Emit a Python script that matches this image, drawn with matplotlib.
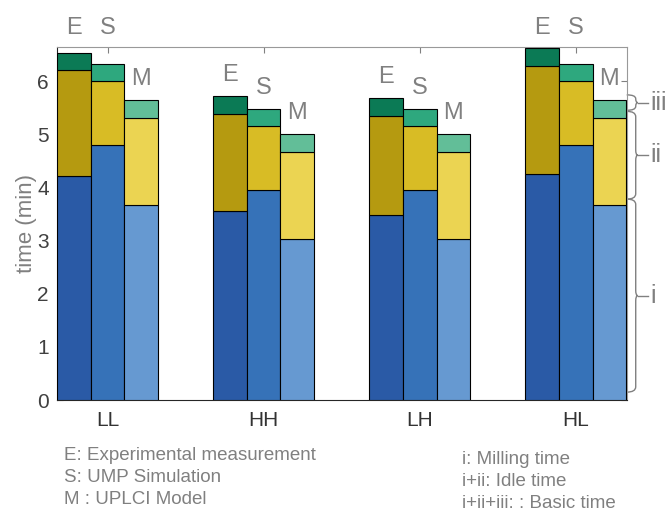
import matplotlib
matplotlib.use("Agg")
import matplotlib.pyplot as plt
import numpy as np
from matplotlib.path import Path
from matplotlib.patches import PathPatch

plt.rcParams["font.family"] = ["Liberation Sans", "DejaVu Sans"]

# data (minutes)
groups = ["LL", "HH", "LH", "HL"]
sources = ["E", "S", "M"]
milling = [[4.21, 4.79, 3.66],
           [3.55, 3.95, 3.03],
           [3.49, 3.95, 3.03],
           [4.25, 4.79, 3.66]]
idle = [[6.21, 6.00, 5.31],
        [5.38, 5.16, 4.67],
        [5.35, 5.16, 4.67],
        [6.29, 6.00, 5.31]]
basic = [[6.53, 6.32, 5.65],
         [5.72, 5.48, 5.00],
         [5.68, 5.48, 5.00],
         [6.62, 6.32, 5.65]]

brace_names = ["i", "ii", "iii"]
brace_ranges = [(0.15, 3.78), (3.78, 5.43), (5.45, 5.74)]

notes_left = ["E: Experimental measurement", "S: UMP Simulation", "M : UPLCI Model"]
notes_right = ["i: Milling time", "i+ii: Idle time", "i+ii+iii: : Basic time"]

c_mill = ["#2a5aa6", "#3672b8", "#6699d1"]
c_idle = ["#b59a10", "#d8bc25", "#ebd452"]
c_basic = ["#0b7a55", "#2ea87e", "#62be98"]
gray = "#808080"

milling = np.array(milling)
idle = np.array(idle)
basic = np.array(basic)

fig = plt.figure(figsize=(6.71, 5.11), dpi=100)
ax = fig.add_axes([0.085, 0.217, 0.849, 0.691])

x = np.arange(1, len(groups) + 1)
w = 0.216
ymax = 6.64
for j in range(3):
    xs = x + (j - 1) * w
    ax.bar(xs, milling[:, j], w, color=c_mill[j], edgecolor="black", linewidth=0.8, zorder=3)
    ax.bar(xs, idle[:, j] - milling[:, j], w, bottom=milling[:, j], color=c_idle[j],
           edgecolor="black", linewidth=0.8, zorder=3)
    ax.bar(xs, basic[:, j] - idle[:, j], w, bottom=idle[:, j], color=c_basic[j],
           edgecolor="black", linewidth=0.8, zorder=3)
    # source letter above each bar (top row if it would hit the frame)
    for xi, top in zip(xs, basic[:, j]):
        ty = top + 0.39
        if ty > ymax:
            ty = 6.99
        ax.text(xi, ty, sources[j], ha="center", va="center", fontsize=17,
                color=gray, clip_on=False)

ax.set_xlim(0.676, 4.327)
ax.set_ylim(0, ymax)
ax.set_xticks(x)
ax.set_xticklabels(groups)
ax.set_yticks(range(7))
ax.tick_params(direction="in", top=True, right=True, length=4, color=gray)
ax.tick_params(axis="x", labelsize=15, labelcolor="#333333", pad=8)
ax.tick_params(axis="y", labelsize=15, labelcolor="#404040", pad=6)
ax.set_ylabel("time (min)", fontsize=16, color=gray, labelpad=0)
for s in ["top", "right"]:
    ax.spines[s].set_color("#999999")
for s in ["bottom", "left"]:
    ax.spines[s].set_color("#262626")

# curly braces on the right
tr = ax.get_yaxis_transform()
x0, x1, x2, x3 = 1.0, 1.0158, 1.0195, 1.037
for name, (yb, yt) in zip(brace_names, brace_ranges):
    ym = (yb + yt) / 2
    r = min(0.1, (yt - yb) / 4)
    verts = [(x0, yb), (x1, yb), (x1, yb + r),
             (x1, ym - r), (x1, ym), (x2, ym),
             (x1, ym), (x1, ym + r),
             (x1, yt - r), (x1, yt), (x0, yt)]
    codes = [Path.MOVETO, Path.CURVE3, Path.CURVE3,
             Path.LINETO, Path.CURVE3, Path.CURVE3,
             Path.CURVE3, Path.CURVE3,
             Path.LINETO, Path.CURVE3, Path.CURVE3]
    ax.add_patch(PathPatch(Path(verts, codes), transform=tr, fill=False,
                           edgecolor=gray, linewidth=1.0, clip_on=False))
    ax.plot([x2, x3], [ym, ym], color=gray, linewidth=1.0, transform=tr, clip_on=False)
    ax.text(1.042, ym, name, transform=tr, ha="left", va="center", fontsize=18,
            color=gray, clip_on=False)

for k, t in enumerate(notes_left):
    fig.text(64 / 671, 1 - (456 + 21.5 * k) / 511, t, ha="left", va="center",
             fontsize=13.5, color=gray)
for k, t in enumerate(notes_right):
    fig.text(462 / 671, 1 - (460 + 22 * k) / 511, t, ha="left", va="center",
             fontsize=13.5, color=gray)

fig.savefig("out.png", dpi=100)
